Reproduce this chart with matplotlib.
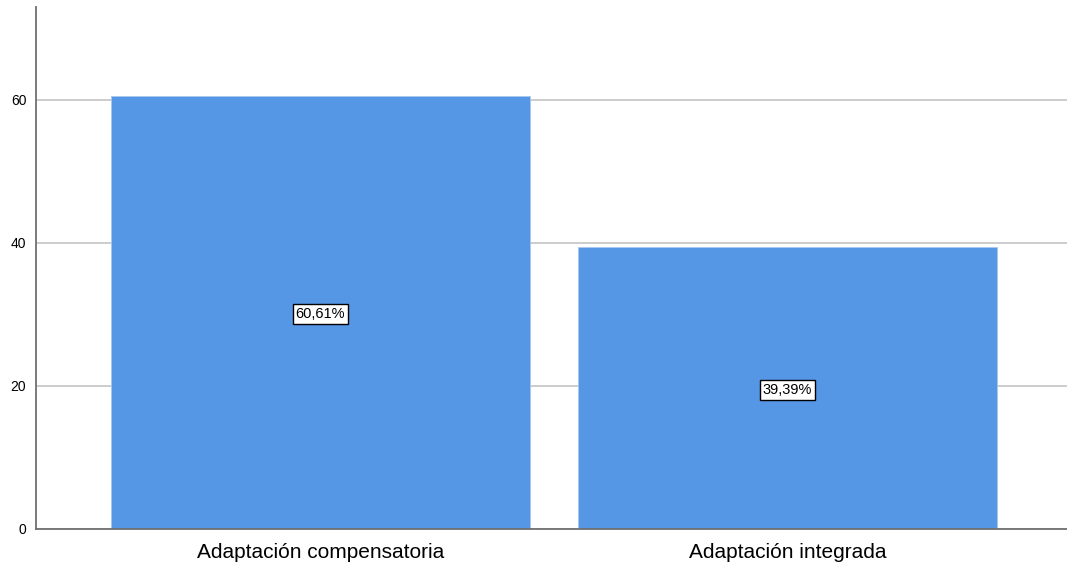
import matplotlib
matplotlib.use("Agg")
import matplotlib.pyplot as plt

categories = ["Adaptación compensatoria", "Adaptación integrada"]
values = [60.61, 39.39]
labels = ["60,61%", "39,39%"]
yticks = [0, 20, 40, 60]

plt.rcParams['font.family'] = ['Liberation Sans', 'DejaVu Sans']
fig = plt.figure(figsize=(10.67, 5.67), dpi=100)
ax = fig.add_axes([36/1067, 38/567, 1 - 36/1067, (529-7)/567])

x = list(range(len(categories)))
ax.bar(x, values, width=0.897, color="#5596E5", edgecolor="#a9c8f0", linewidth=0.6, zorder=2)
for xi, v, lab in zip(x, values, labels):
    ax.text(xi, v/2 - 0.2, lab, ha="center", va="center", fontsize=10.5, zorder=3,
            bbox=dict(boxstyle="square,pad=0.2", facecolor="white", edgecolor="black", linewidth=1))

ax.set_xlim(-0.609, 1.598)
ax.set_ylim(0, 73)
ax.set_yticks(yticks)
ax.set_yticklabels([str(t) for t in yticks], fontsize=10)
ax.set_xticks(x)
ax.set_xticklabels(categories, fontsize=15)
ax.yaxis.grid(True, color="#c8c8c8", linewidth=1.3, zorder=0)
ax.set_axisbelow(True)
for s in ["top", "right"]:
    ax.spines[s].set_visible(False)
for s in ["left", "bottom"]:
    ax.spines[s].set_color("#707070")
    ax.spines[s].set_linewidth(1.3)
ax.tick_params(axis="y", length=0, pad=7)
ax.tick_params(axis="x", length=0, pad=10)

fig.savefig("out.png", dpi=100)
